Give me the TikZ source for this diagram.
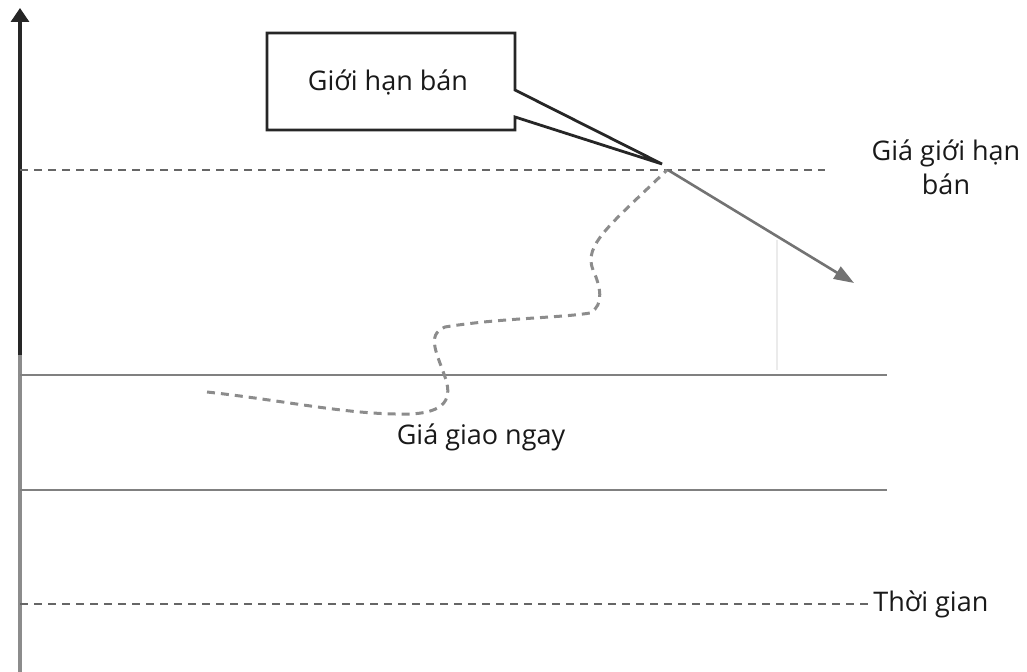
\documentclass[tikz,border=0pt]{standalone}
\usepackage{fontspec}
\setmainfont{Open Sans}
\usetikzlibrary{arrows.meta}
\begin{document}
\begin{tikzpicture}[x=0.5pt,y=-0.5pt,
  lbl/.style={font=\fontsize{13.5}{15}\selectfont, text=black!90, inner sep=0pt},
  dashline/.style={draw=black!60, line width=1.2pt, dash pattern=on 4pt off 3pt},
  gline/.style={draw=black!50, line width=1.1pt},
  wave/.style={draw=black!45, line width=1.5pt, dash pattern=on 4pt off 3pt}]
\useasboundingbox (0,0) rectangle (1027,672);
% axis
\coordinate (ax0) at (20,672);
\coordinate (axm) at (20,355);
\coordinate (ax1) at (20,8);
\draw[draw=black!45, line width=1.6pt] (ax0) -- (axm);
\draw[draw=black!85, line width=1.6pt, -{Triangle[length=7pt,width=9pt]}] (axm) -- (ax1);
% horizontal lines
\coordinate (d1a) at (20,170); \coordinate (d1b) at (825,170);
\draw[dashline] (d1a) -- (d1b);
\coordinate (s1a) at (20,375); \coordinate (s1b) at (887,375);
\draw[gline] (s1a) -- (s1b);
\coordinate (s2a) at (20,490); \coordinate (s2b) at (887,490);
\draw[gline] (s2a) -- (s2b);
\node[lbl, anchor=west] (tg) at (873,604) {Thời gian};
\coordinate (d2a) at (20,604);
\draw[dashline] (d2a) -- (tg.west);
% faint vertical line
\coordinate (fv0) at (777,240); \coordinate (fv1) at (777,370);
\draw[draw=black!8, line width=0.8pt] (fv0) -- (fv1);
% callout
\coordinate (tip) at (662,164);
\draw[draw=black!85, line width=1.4pt, fill=white, line join=miter]
  (267,33) -- (515,33) -- (515,90) -- (tip) -- (515,117) -- (515,130) -- (267,130) -- cycle;
\node[lbl] (ghb) at (388,82) {Giới hạn bán};
% arrow
\coordinate (a0) at (668,170); \coordinate (a1) at (854,283);
\draw[draw=black!55, line width=1.3pt, -{Triangle[length=10pt,width=7pt]}] (a0) -- (a1);
\node[lbl, align=center] (ggh) at (946,167) {Giá giới hạn\\[2pt]bán};
% wavy spot price
\draw[wave] (207,392) .. controls (280,400) and (340,413) .. (395,414)
  .. controls (445,416) and (452,400) .. (446,380)
  .. controls (438,355) and (425,335) .. (445,327)
  .. controls (500,318) and (560,318) .. (590,313)
  .. controls (605,305) and (600,285) .. (593,270)
  .. controls (583,245) and (610,225) .. (667,170);
\node[lbl] (gg) at (481,437) {Giá giao ngay};
\end{tikzpicture}
\end{document}
